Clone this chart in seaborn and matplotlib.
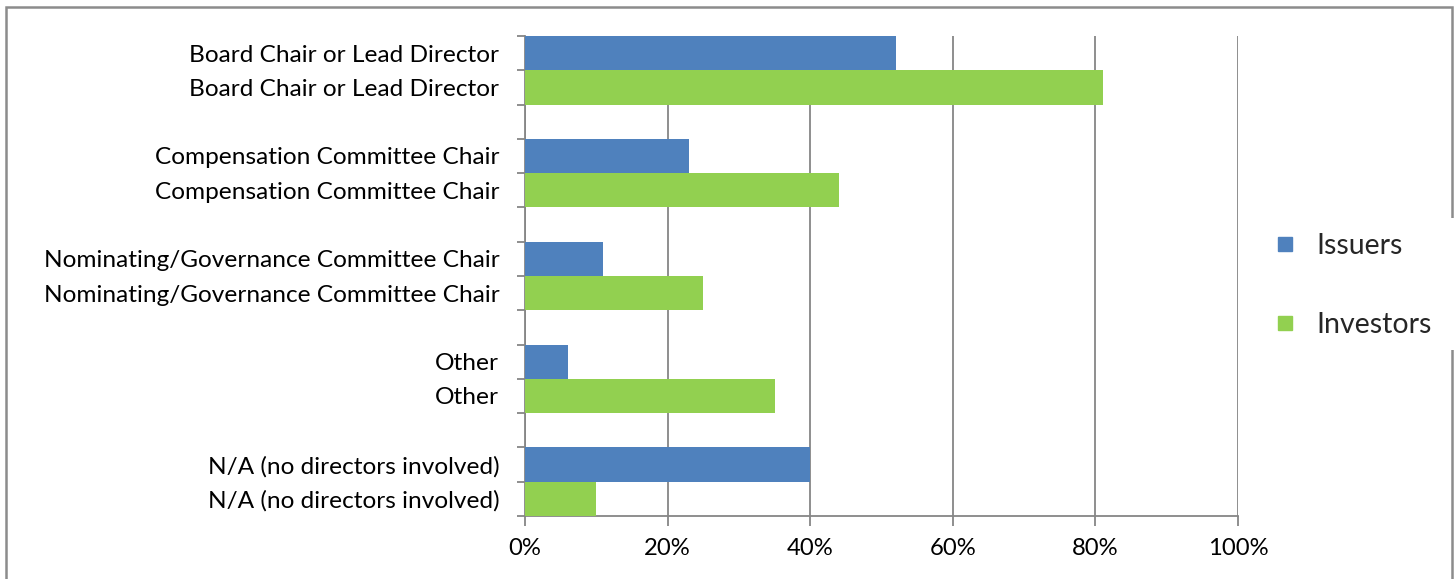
import matplotlib
matplotlib.use("Agg")
import matplotlib.pyplot as plt
from matplotlib.lines import Line2D
from matplotlib.patches import Rectangle
from matplotlib.ticker import FixedLocator, PercentFormatter
import seaborn as sns
import pandas as pd

categories = [
    "Board Chair or Lead Director",
    "Compensation Committee Chair",
    "Nominating/Governance Committee Chair",
    "Other",
    "N/A (no directors involved)",
]
issuers = [52, 23, 11, 6, 40]
investors = [81, 44, 25, 35, 10]
series_names = ["Issuers", "Investors"]
colors = {"Issuers": "#4F81BD", "Investors": "#92D050"}
x_ticks = [0, 20, 40, 60, 80, 100]

# Each category takes two rows (one per series) followed by a blank row
rows = []
labels = []
for i, cat in enumerate(categories):
    base = i * 3
    rows.append({"slot": base, "value": issuers[i], "series": "Issuers"})
    rows.append({"slot": base + 1, "value": investors[i], "series": "Investors"})
    labels += [(base, cat), (base + 1, cat)]
df = pd.DataFrame(rows)
n_slots = len(categories) * 3 - 1

sns.set_style("white")
plt.rcParams["font.family"] = ["Lato", "DejaVu Sans"]

W, H = 1455, 579
fig = plt.figure(figsize=(W / 100, H / 100), dpi=100)
ax = fig.add_axes([525 / W, 1 - 516 / H, (1238 - 525) / W, (516 - 36) / H])

sns.barplot(data=df, x="value", y="slot", hue="series", orient="h",
            native_scale=True, dodge=False, width=1.0,
            palette=colors, hue_order=series_names, ax=ax,
            legend=False, saturation=1, linewidth=0, zorder=3)

grid_col = "#868686"
ax.set_xlim(0, 100)
ax.set_ylim(n_slots - 0.5, -0.5)
ax.set_xticks(x_ticks)
ax.xaxis.set_major_formatter(PercentFormatter(decimals=0))
ax.xaxis.grid(True, color=grid_col, linewidth=1.3, zorder=0)
ax.yaxis.grid(False)
ax.set_axisbelow(True)

ax.set_yticks([p for p, _ in labels])
ax.set_yticklabels([t for _, t in labels])
ax.yaxis.set_minor_locator(FixedLocator([b - 0.5 for b in range(n_slots + 1)]))
ax.tick_params(axis="y", which="major", length=0, pad=18.5, labelsize=17.6, colors="black")
ax.tick_params(axis="y", which="minor", length=6, width=1.3, color=grid_col, direction="out", left=True)
ax.tick_params(axis="x", which="major", length=7, width=1.3, color=grid_col, direction="out",
               pad=9, labelsize=17.2, labelcolor="black", bottom=True)
ax.set_xlabel("")
ax.set_ylabel("")

for side in ["top", "right"]:
    ax.spines[side].set_visible(False)
for side in ["left", "bottom"]:
    ax.spines[side].set_color(grid_col)
    ax.spines[side].set_linewidth(1.3)

# Chart border
fig.patches.append(Rectangle((6 / W, -0.05), (1452 - 6) / W, 1.05 - 7 / H,
                             transform=fig.transFigure, fill=False,
                             edgecolor="#8c8c8c", linewidth=1.8, zorder=0))
# Legend area background sits over the right border
fig.patches.append(Rectangle((1262 / W, 1 - 350 / H), (W - 1262) / W, 132 / H,
                             transform=fig.transFigure, facecolor="white",
                             edgecolor="none", zorder=1))

handles = [Line2D([], [], marker="s", linestyle="none", markersize=10,
                  markerfacecolor=colors[s], markeredgecolor=colors[s]) for s in series_names]
leg = fig.legend(handles, series_names, loc="upper left",
                 bbox_to_anchor=(1271 / W, 1 - 233 / H),
                 frameon=False, fontsize=20.5, labelspacing=1.85, handletextpad=0.6,
                 borderpad=0, handlelength=1.0, borderaxespad=0)
leg.set_zorder(5)

fig.savefig("out.png", dpi=100)
